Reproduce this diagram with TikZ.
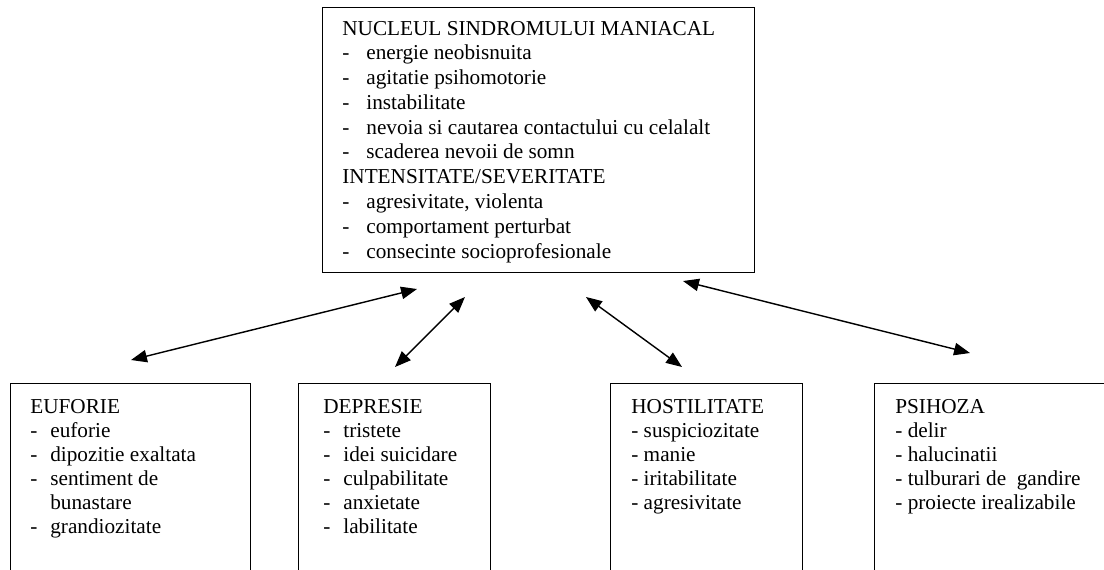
\documentclass[tikz,border=0pt,12pt]{standalone}
\usepackage{fontspec}
\setmainfont{Liberation Serif}
\usetikzlibrary{arrows.meta}

\tikzset{
  box/.style={draw, line width=0.8pt, anchor=north west, inner sep=0pt},
  txt/.style={anchor=base west, inner sep=0pt},
  link/.style={<->, line width=0.8pt, >={Triangle[length=9pt,width=7pt]}},
}

\begin{document}
\begin{tikzpicture}[x=0.565pt, y=-0.565pt]
        \clip (0,0) rectangle (1104,569);

        % boxes
        \node[box, minimum width=244.1pt, minimum height=149.7pt] (nucleu) at (322,7) {};
        \node[box, minimum width=135.6pt, minimum height=125pt] (euforie) at (10,383) {};
        \node[box, minimum width=108.5pt, minimum height=125pt] (depresie) at (298,383) {};
        \node[box, minimum width=108.5pt, minimum height=125pt] (hostil) at (610,383) {};
        \node[box, minimum width=140pt, minimum height=125pt] (psihoza) at (874,383) {};

        % texts
        \node[txt, font=\fontsize{12}{14}\selectfont] (nucleu-t) at ([shift={(20,28)}]nucleu.north west) {%
          \begin{tabular}[t]{@{}p{13.6pt}@{}l@{}}
            \multicolumn{2}{@{}l@{}}{NUCLEUL SINDROMULUI MANIACAL}\\
            - & energie neobisnuita\\
            - & agitatie psihomotorie\\
            - & instabilitate\\
            - & nevoia si cautarea contactului cu celalalt\\
            - & scaderea nevoii de somn\\
            \multicolumn{2}{@{}l@{}}{INTENSITATE/SEVERITATE}\\
            - & agresivitate, violenta\\
            - & comportament perturbat\\
            - & consecinte socioprofesionale
          \end{tabular}};
        \node[txt, font=\fontsize{12}{13.56}\selectfont] (euforie-t) at ([shift={(20,30)}]euforie.north west) {%
          \begin{tabular}[t]{@{}p{11.3pt}@{}l@{}}
            \multicolumn{2}{@{}l@{}}{EUFORIE}\\
            - & euforie\\
            - & dipozitie exaltata\\
            - & sentiment de\\
              & bunastare\\
            - & grandiozitate
          \end{tabular}};
        \node[txt, font=\fontsize{12}{13.56}\selectfont] (depresie-t) at ([shift={(25,30)}]depresie.north west) {%
          \begin{tabular}[t]{@{}p{11.3pt}@{}l@{}}
            \multicolumn{2}{@{}l@{}}{DEPRESIE}\\
            - & tristete\\
            - & idei suicidare\\
            - & culpabilitate\\
            - & anxietate\\
            - & labilitate
          \end{tabular}};
        \node[txt, font=\fontsize{12}{13.56}\selectfont] (hostil-t) at ([shift={(21,30)}]hostil.north west) {%
          \begin{tabular}[t]{@{}l@{}}
            HOSTILITATE\\
            - suspiciozitate\\
            - manie\\
            - iritabilitate\\
            - agresivitate
          \end{tabular}};
        \node[txt, font=\fontsize{12}{13.56}\selectfont] (psihoza-t) at ([shift={(21,30)}]psihoza.north west) {%
          \begin{tabular}[t]{@{}l@{}}
            PSIHOZA\\
            - delir\\
            - halucinatii\\
            - tulburari de~ gandire\\
            - proiecte irealizabile
          \end{tabular}};

        % arrow ends
        \coordinate (a1) at (417,289);
        \coordinate (b1) at (131,360);
        \coordinate (a2) at (465,297);
        \coordinate (b2) at (395,367);
        \coordinate (a3) at (586,297);
        \coordinate (b3) at (682,367);
        \coordinate (a4) at (683,281);
        \coordinate (b4) at (970,353);

        \path [link] (a1) edge (b1);
        \path [link] (a2) edge (b2);
        \path [link] (a3) edge (b3);
        \path [link] (a4) edge (b4);
\end{tikzpicture}
\end{document}
